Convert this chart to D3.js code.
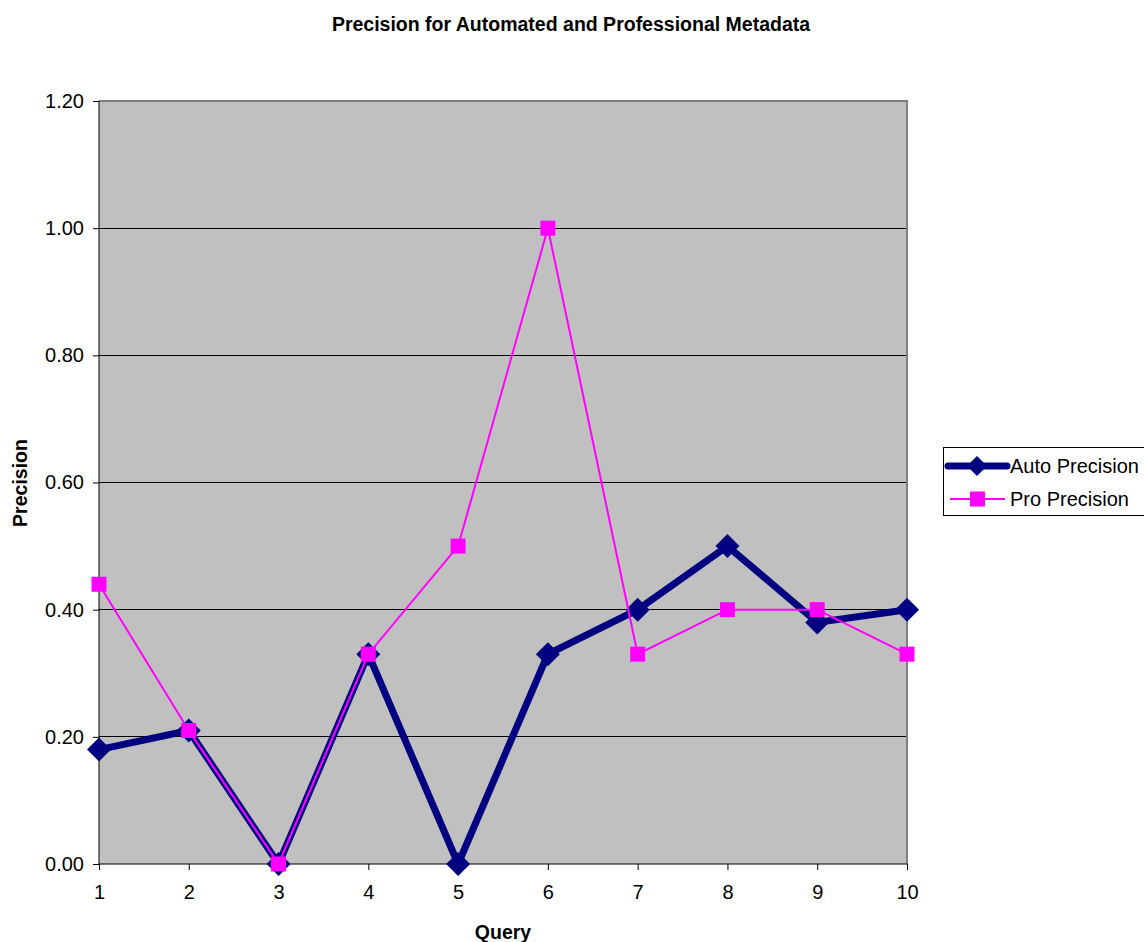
<!DOCTYPE html>
<html><head><meta charset="utf-8">
<script src="https://cdn.jsdelivr.net/npm/d3@7"></script>
<style>body{margin:0;background:#fff;}svg{display:block;font-family:"Liberation Sans",Arial,sans-serif;}</style>
</head><body>
<svg id="c" width="1144" height="942"></svg>
<script>
const queries = [1,2,3,4,5,6,7,8,9,10];
const autoPrecision = [0.18,0.21,0.00,0.33,0.00,0.33,0.40,0.50,0.38,0.40];
const proPrecision = [0.44,0.21,0.00,0.33,0.50,1.00,0.33,0.40,0.40,0.33];
const yTicks = [0,0.2,0.4,0.6,0.8,1.0,1.2];
const seriesNames = ["Auto Precision","Pro Precision"];

const svg = d3.select("#c");
const L=99,R=907,T=101,B=864;
const FS=20;
const x = d3.scaleLinear().domain([1,10]).range([L,R]);
const y = d3.scaleLinear().domain([0,1.2]).range([B,T]);

svg.append("rect").attr("x",L).attr("y",T).attr("width",R-L).attr("height",B-T).attr("fill","#C0C0C0");
svg.append("g").selectAll("line").data(yTicks.filter(d=>d>0 && d<1.2)).join("line")
  .attr("x1",L).attr("x2",R).attr("y1",d=>y(d)).attr("y2",d=>y(d)).attr("stroke","#000").attr("stroke-width",1).attr("shape-rendering","crispEdges");
svg.append("path").attr("d",`M${L},${T}H${R}V${B}`).attr("fill","none").attr("stroke","#808080").attr("stroke-width",2);

const yAxis = d3.axisLeft(y).tickValues(yTicks).tickFormat(d3.format(".2f")).tickSize(6).tickPadding(9);
const gy = svg.append("g").attr("transform",`translate(${L},0)`).call(yAxis);
gy.attr("font-size",FS).attr("font-family","Liberation Sans, Arial, sans-serif");
gy.selectAll("text").attr("fill","#000");
gy.select(".domain").attr("d",`M0,${T}V${B}`).attr("stroke","#000");

const xAxis = d3.axisBottom(x).tickValues(queries).tickFormat(d3.format("d")).tickSize(6).tickPadding(15);
const gx = svg.append("g").attr("transform",`translate(0,${B})`).call(xAxis);
gx.attr("font-size",FS).attr("font-family","Liberation Sans, Arial, sans-serif");
gx.selectAll("text").attr("fill","#000");
gx.select(".domain").attr("d",`M${L},0H${R}`).attr("stroke","#000");

const line = d3.line().x((d,i)=>x(queries[i])).y(d=>y(d));
svg.append("path").datum(autoPrecision).attr("d",line).attr("fill","none").attr("stroke","#000080").attr("stroke-width",7).attr("stroke-linejoin","miter");
const diamond = s => `M0,${-s}L${s},0L0,${s}L${-s},0Z`;
svg.append("g").selectAll("path").data(autoPrecision).join("path")
  .attr("transform",(d,i)=>`translate(${x(queries[i])},${y(d)})`).attr("d",diamond(12)).attr("fill","#000080");

svg.append("path").datum(proPrecision).attr("d",line).attr("fill","none").attr("stroke","#FF00FF").attr("stroke-width",2);
svg.append("g").selectAll("rect").data(proPrecision).join("rect")
  .attr("x",(d,i)=>x(queries[i])-7.5).attr("y",d=>y(d)-7.5).attr("width",15).attr("height",15).attr("fill","#FF00FF");

svg.append("text").attr("x",571).attr("y",31).attr("text-anchor","middle").attr("font-size",19.5).attr("font-weight","bold").text("Precision for Automated and Professional Metadata");
svg.append("text").attr("x",503).attr("y",939).attr("text-anchor","middle").attr("font-size",19.5).attr("font-weight","bold").text("Query");
svg.append("text").attr("transform","translate(27,483) rotate(-90)").attr("text-anchor","middle").attr("font-size",19.5).attr("font-weight","bold").text("Precision");

const lg = svg.append("g");
lg.append("rect").attr("x",943.5).attr("y",447.5).attr("width",210).attr("height",68).attr("fill","#fff").attr("stroke","#000");
const ly = [466,499];
lg.append("line").attr("x1",948).attr("x2",1007).attr("y1",ly[0]).attr("y2",ly[0]).attr("stroke","#000080").attr("stroke-width",7).attr("stroke-linecap","round");
lg.append("path").attr("transform",`translate(977,${ly[0]})`).attr("d",diamond(10)).attr("fill","#000080");
lg.append("line").attr("x1",950).attr("x2",1005).attr("y1",ly[1]).attr("y2",ly[1]).attr("stroke","#FF00FF").attr("stroke-width",2);
lg.append("rect").attr("x",970).attr("y",ly[1]-7.5).attr("width",15).attr("height",15).attr("fill","#FF00FF");
lg.selectAll("text.l").data(seriesNames).join("text").attr("class","l").attr("x",1010).attr("y",(d,i)=>ly[i]+7).attr("font-size",FS).text(d=>d);
</script>
</body></html>
